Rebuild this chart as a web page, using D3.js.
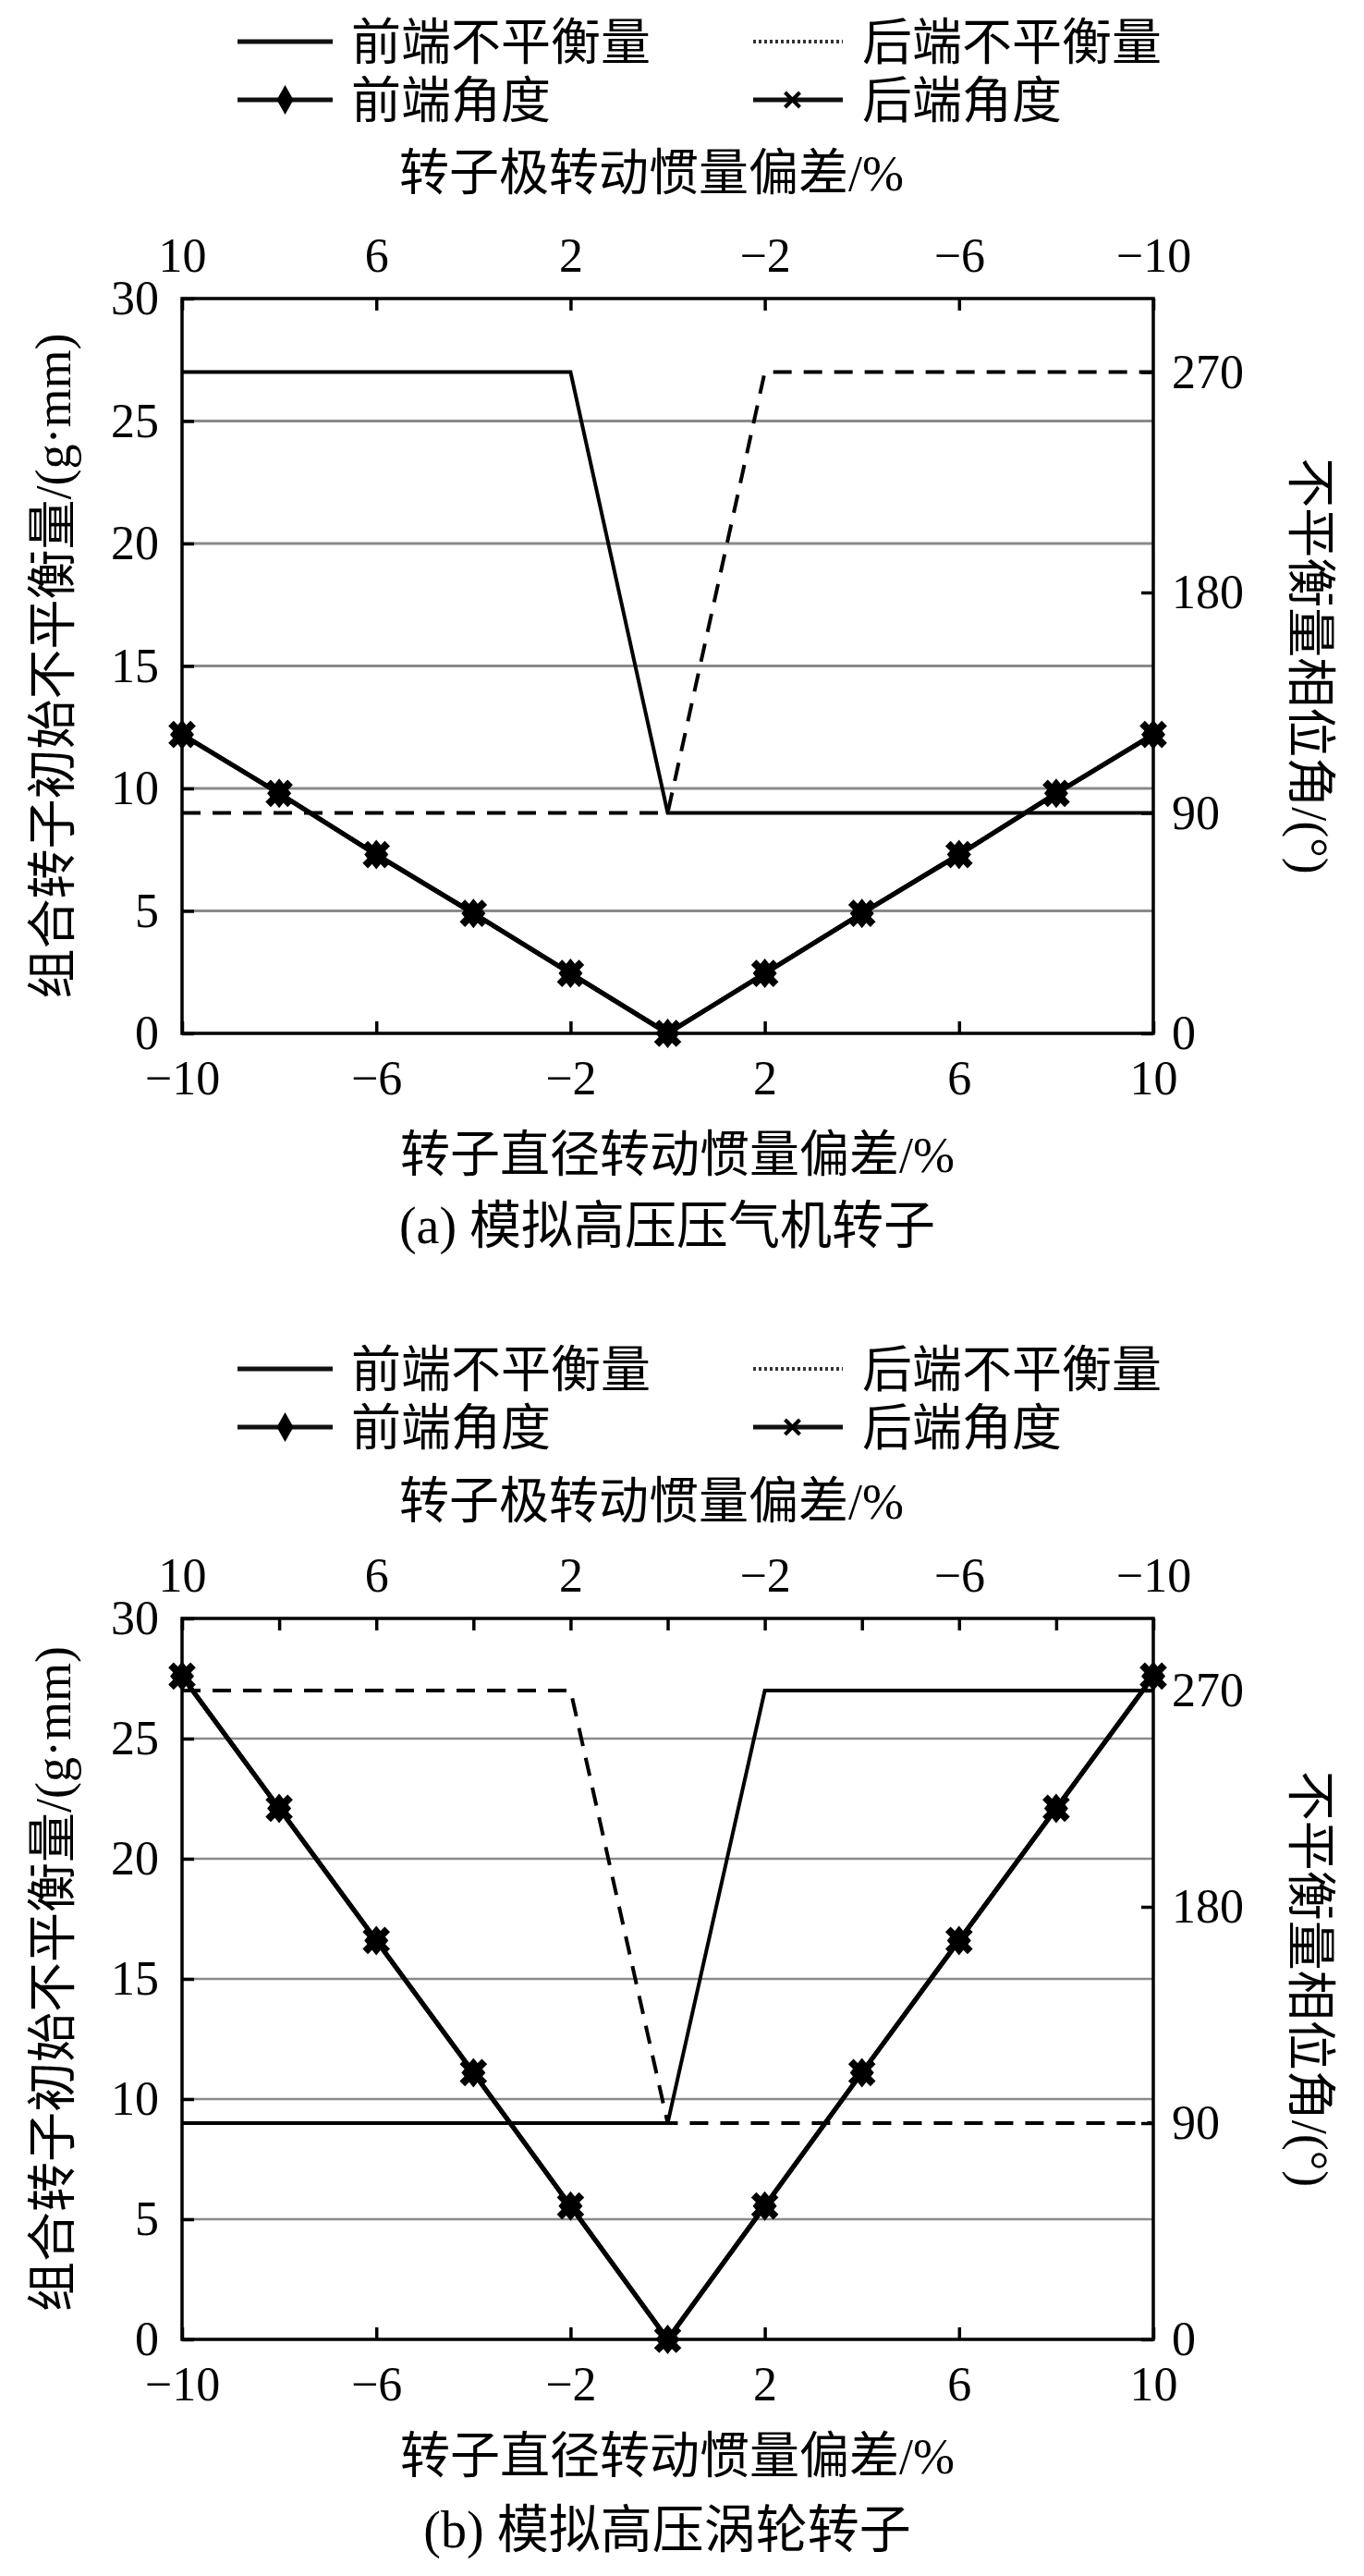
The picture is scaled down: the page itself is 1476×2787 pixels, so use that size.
<!DOCTYPE html>
<html>
<head>
<meta charset="utf-8">
<script src="https://cdn.jsdelivr.net/npm/d3@7"></script>
<style>
  html, body { margin: 0; padding: 0; background: #fff; }
  text { font-family: "Liberation Serif", "Times New Roman", "Noto Sans CJK SC", serif; fill: #000; }
</style>
</head>
<body>
<div id="chart"></div>
<script>
const WIDTH = 1476;
const HEIGHT = 2787;

// shared axis values
const xPoints = [-10, -8, -6, -4, -2, 0, 2, 4, 6, 8, 10];
const bottomTicks = [-10, -6, -2, 2, 6, 10];
const topTicksA = [10, 6, 2, -2, -6, -10];
const topTicksB = [10, 8, 6, 4, 2, 0, -2, -4, -6, -8, -10];
const topLabels = [10, 6, 2, -2, -6, -10];
const leftTicks = [0, 5, 10, 15, 20, 25, 30];
const gridValues = [5, 10, 15, 20, 25];
const rightTicks = [0, 90, 180, 270];

const legendNames = ['前端不平衡量', '后端不平衡量', '前端角度', '后端角度'];
const topTitle = '转子极转动惯量偏差/%';
const bottomTitle = '转子直径转动惯量偏差/%';
const leftTitle = '组合转子初始不平衡量/(g·mm)';
const rightTitle = '不平衡量相位角/(°)';

// (a) 模拟高压压气机转子
const frontUnbalanceXA = [-10, -2, 0, 10];
const frontUnbalanceA = [270, 270, 90, 90];
const rearUnbalanceXA = [-10, 0, 2, 10];
const rearUnbalanceA = [90, 90, 270, 270];
const frontAngleA = [12.2, 9.8, 7.3, 4.9, 2.45, 0, 2.45, 4.9, 7.3, 9.8, 12.2];
const rearAngleA = [12.2, 9.8, 7.3, 4.9, 2.45, 0, 2.45, 4.9, 7.3, 9.8, 12.2];

// (b) 模拟高压涡轮转子
const frontUnbalanceXB = [-10, 0, 2, 10];
const frontUnbalanceB = [90, 90, 270, 270];
const rearUnbalanceXB = [-10, -2, 0, 10];
const rearUnbalanceB = [270, 270, 90, 90];
const frontAngleB = [27.6, 22.1, 16.6, 11.1, 5.55, 0, 5.55, 11.1, 16.6, 22.1, 27.6];
const rearAngleB = [27.6, 22.1, 16.6, 11.1, 5.55, 0, 5.55, 11.1, 16.6, 22.1, 27.6];

const fmt = v => (v < 0 ? '\u2212' + Math.abs(v) : String(v));

const svg = d3.select('#chart').append('svg')
  .attr('width', WIDTH)
  .attr('height', HEIGHT);

svg.append('rect').attr('width', WIDTH).attr('height', HEIGHT).attr('fill', '#fff');

function diamond(g, x, y, w, h) {
  g.append('path')
    .attr('d', `M${x},${y - h}L${x + w},${y}L${x},${y + h}L${x - w},${y}Z`)
    .attr('fill', '#000');
}

function cross(g, x, y, r, sw) {
  g.append('path')
    .attr('d', `M${x - r},${y - r}L${x + r},${y + r}M${x - r},${y + r}L${x + r},${y - r}`)
    .attr('stroke', '#000')
    .attr('stroke-width', sw)
    .attr('fill', 'none');
}

function drawPanel(p) {
  const g = svg.append('g');
  const left = 197;
  const right = 1248;

  const x = d3.scaleLinear().domain([-10, 10]).range([left, right]);
  const xTop = d3.scaleLinear().domain([10, -10]).range([left, right]);
  const y = d3.scaleLinear().domain([0, 30]).range([p.bottom, p.top]);
  const y2 = d3.scaleLinear().domain([0, 300]).range([p.bottom, p.top]);

  // legend
  const lg = g.append('g');
  const rows = [
    { x0: 257, x1: 360, tx: 380, y: p.legendY[0], name: legendNames[0], type: 'solid' },
    { x0: 815, x1: 912, tx: 933, y: p.legendY[0], name: legendNames[1], type: 'dotted' },
    { x0: 257, x1: 360, tx: 380, y: p.legendY[1], name: legendNames[2], type: 'diamond' },
    { x0: 815, x1: 912, tx: 933, y: p.legendY[1], name: legendNames[3], type: 'cross' }
  ];
  rows.forEach(r => {
    lg.append('line')
      .attr('x1', r.x0).attr('x2', r.x1).attr('y1', r.y).attr('y2', r.y)
      .attr('stroke', r.type === 'dotted' ? '#333' : '#111')
      .attr('stroke-width', r.type === 'dotted' ? 4 : 5)
      .attr('stroke-dasharray', r.type === 'dotted' ? '3,3' : null);
    if (r.type === 'diamond') diamond(lg, (r.x0 + r.x1) / 2, r.y, 9, 16);
    if (r.type === 'cross') cross(lg, (r.x0 + r.x1) / 2 - 6, r.y, 8, 4);
    lg.append('text')
      .attr('x', r.tx).attr('y', r.y + 20)
      .attr('font-size', 54)
      .text(r.name);
  });

  // top title
  g.append('text')
    .attr('x', 705).attr('y', p.topTitleY)
    .attr('text-anchor', 'middle')
    .attr('font-size', 54)
    .text(topTitle);

  // gridlines
  g.append('g').selectAll('line')
    .data(gridValues).enter()
    .append('line')
    .attr('x1', left).attr('x2', right)
    .attr('y1', d => y(d)).attr('y2', d => y(d))
    .attr('stroke', '#8a8a8a')
    .attr('stroke-width', p.gridWidth);

  // step series (right axis)
  const stepLine = d3.line().x(d => x(d[0])).y(d => y2(d[1]));
  g.append('path')
    .datum(d3.zip(p.frontX, p.front))
    .attr('d', stepLine)
    .attr('fill', 'none')
    .attr('stroke', '#000')
    .attr('stroke-width', 4);
  g.append('path')
    .datum(d3.zip(p.rearX, p.rear))
    .attr('d', stepLine)
    .attr('fill', 'none')
    .attr('stroke', '#000')
    .attr('stroke-width', 4)
    .attr('stroke-dasharray', '20,13');

  // marked series (left axis)
  const vLine = d3.line().x(d => x(d[0])).y(d => y(d[1]));
  [p.frontAngle, p.rearAngle].forEach(vals => {
    g.append('path')
      .datum(d3.zip(xPoints, vals))
      .attr('d', vLine)
      .attr('fill', 'none')
      .attr('stroke', '#000')
      .attr('stroke-width', 5);
  });
  const mk = g.append('g');
  xPoints.forEach((xv, i) => {
    diamond(mk, x(xv), y(p.frontAngle[i]), 13, 16);
  });
  xPoints.forEach((xv, i) => {
    cross(mk, x(xv), y(p.rearAngle[i]), 12, 8);
  });

  // frame
  g.append('rect')
    .attr('x', left).attr('y', p.top)
    .attr('width', right - left).attr('height', p.bottom - p.top)
    .attr('fill', 'none')
    .attr('stroke', '#000')
    .attr('stroke-width', 3.5);

  // axes with inward ticks
  const axisStyle = sel => {
    sel.select('.domain').remove();
    sel.selectAll('.tick line').attr('stroke', '#000').attr('stroke-width', 3.5);
    sel.selectAll('.tick text').attr('font-size', 52).attr('fill', '#000');
  };

  g.append('g')
    .attr('transform', `translate(0,${p.bottom})`)
    .call(d3.axisBottom(x).tickValues(bottomTicks).tickFormat(fmt).tickSizeInner(-13).tickPadding(29))
    .call(axisStyle)
    .attr('font-family', null);

  g.append('g')
    .attr('transform', `translate(0,${p.top})`)
    .call(d3.axisTop(xTop).tickValues(p.topTicks)
      .tickFormat(d => (topLabels.includes(d) ? fmt(d) : ''))
      .tickSizeInner(-13).tickPadding(29))
    .call(axisStyle)
    .attr('font-family', null);

  g.append('g')
    .attr('transform', `translate(${left},0)`)
    .call(d3.axisLeft(y).tickValues(leftTicks).tickSizeInner(-13).tickPadding(25))
    .call(axisStyle)
    .attr('font-family', null);

  g.append('g')
    .attr('transform', `translate(${right},0)`)
    .call(d3.axisRight(y2).tickValues(rightTicks).tickSizeInner(-13).tickPadding(20))
    .call(axisStyle)
    .attr('font-family', null);

  const midY = (p.top + p.bottom) / 2;

  g.append('text')
    .attr('transform', `translate(76,${midY}) rotate(-90)`)
    .attr('text-anchor', 'middle')
    .attr('font-size', 54)
    .text(leftTitle);

  g.append('text')
    .attr('transform', `translate(1399,${midY}) rotate(90)`)
    .attr('text-anchor', 'middle')
    .attr('font-size', 54)
    .text(rightTitle);

  g.append('text')
    .attr('x', 733).attr('y', p.xTitleY)
    .attr('text-anchor', 'middle')
    .attr('font-size', 54)
    .text(bottomTitle);

  g.append('text')
    .attr('x', 722).attr('y', p.captionY)
    .attr('text-anchor', 'middle')
    .attr('font-size', 56)
    .text(p.caption);
}

drawPanel({
  top: 323, bottom: 1118,
  legendY: [45, 108], topTitleY: 206, xTitleY: 1268, captionY: 1345,
  topTicks: topTicksA, gridWidth: 3,
  frontX: frontUnbalanceXA, front: frontUnbalanceA,
  rearX: rearUnbalanceXA, rear: rearUnbalanceA,
  frontAngle: frontAngleA, rearAngle: rearAngleA,
  caption: '(a) 模拟高压压气机转子'
});

drawPanel({
  top: 1751, bottom: 2531,
  legendY: [1481, 1544], topTitleY: 1643, xTitleY: 2676, captionY: 2756,
  topTicks: topTicksB, gridWidth: 2.5,
  frontX: frontUnbalanceXB, front: frontUnbalanceB,
  rearX: rearUnbalanceXB, rear: rearUnbalanceB,
  frontAngle: frontAngleB, rearAngle: rearAngleB,
  caption: '(b) 模拟高压涡轮转子'
});
</script>
</body>
</html>
